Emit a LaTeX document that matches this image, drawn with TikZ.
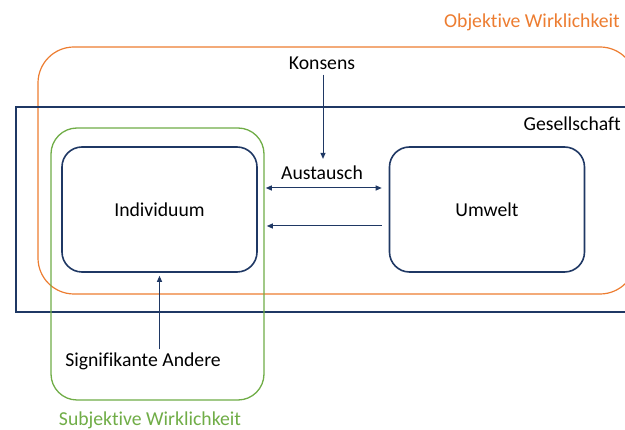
\documentclass[tikz,border=0pt]{standalone}
\usepackage{fontspec}
\setmainfont{Carlito}[Ligatures=NoCommon]
\usetikzlibrary{arrows.meta}
\definecolor{navy}{HTML}{1F3864}
\definecolor{orng}{HTML}{ED7D31}
\definecolor{grn}{HTML}{70AD47}
\tikzset{
  box/.style={draw=navy, line width=1.6pt, rounded corners=20pt, minimum width=195pt, minimum height=125pt, font=\fontsize{19.7}{23}\selectfont},
  lbl/.style={font=\fontsize{19.7}{23}\selectfont, inner sep=1pt},
  arr/.style={draw=navy, line width=1pt, -{Triangle[length=6pt,width=5pt]}},
  darr/.style={draw=navy, line width=1pt, {Triangle[length=6pt,width=5pt]}-{Triangle[length=6pt,width=5pt]}}
}
\begin{document}
\begin{tikzpicture}[x=1pt,y=-1pt]
\clip (0,0) rectangle (625,430);
\fill[white] (0,0) rectangle (625,430);
% frames
\draw[orng, line width=1.2pt, rounded corners=36pt] (38,47) rectangle (636,294);
\draw[navy, line width=1.4pt] (16,107) rectangle (640,312);
\draw[grn, line width=1.3pt, rounded corners=26pt] (51,128) rectangle (264,400);
% frame labels
\node[lbl, text=orng, anchor=east] (ow) at (621,22) {Objektive Wirklichkeit};
\node[lbl, anchor=east] (ges) at (622,124) {Gesellschaft};
\node[lbl, text=grn] (sw) at (150,420) {Subjektive Wirklichkeit};
% boxes
\node[box] (ind) at (159.5,209.5) {Individuum};
\node[box] (umw) at (487,209.5) {Umwelt};
% texts
\node[lbl] (kon) at (322,63) {Konsens};
\node[lbl] (aus) at (322,173) {Austausch};
\node[lbl] (sig) at (143,361) {Signifikante Andere};
% connectors
\draw[arr] ([xshift=1pt,yshift=-4pt]kon.south) -- ([xshift=1pt,yshift=6pt]aus.north);
\draw[darr] ([xshift=8pt,yshift=21.5pt]ind.east) -- ([xshift=-7pt,yshift=21.5pt]umw.west);
\draw[arr] ([xshift=-7pt,yshift=-16.5pt]umw.west) -- ([xshift=9pt,yshift=-16.5pt]ind.east);
\draw[arr] ([yshift=2pt]sig.north -| ind.south) -- ([yshift=-3pt]ind.south);
\end{tikzpicture}
\end{document}
